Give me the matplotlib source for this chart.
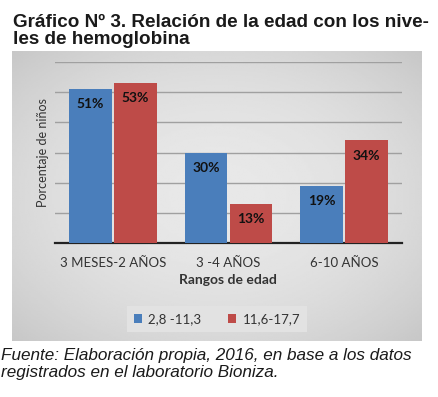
import numpy as np
import matplotlib.pyplot as plt

categorias = ['3 MESES-2 AÑOS', '3 -4 AÑOS', '6-10 AÑOS']
serie_baja = [51, 30, 19]      # 2,8 -11,3
serie_alta = [53, 13, 34]      # 11,6-17,7
nombres = ['2,8 -11,3', '11,6-17,7']

W, H = 439, 397
fig = plt.figure(figsize=(W / 100, H / 100), dpi=100)
fig.patch.set_facecolor('white')
plt.rcParams['font.family'] = ['Lato', 'DejaVu Sans']

def fx(px):
    return px / W

def fy(py):
    return 1 - py / H

# gray chart panel with soft radial gradient
bg = fig.add_axes([fx(12), fy(341), fx(422) - fx(12), fy(51) - fy(341)])
gx, gy = np.meshgrid(np.linspace(-1, 1, 200), np.linspace(-1, 1, 200))
r2 = (gx ** 2 + gy ** 2) / 2
shade = 0.91 - 0.13 * r2
bg.imshow(shade, cmap='gray', vmin=0, vmax=1, aspect='auto', extent=[0, 1, 0, 1])
bg.axis('off')

# plot area
ax = fig.add_axes([fx(55), fy(243), fx(402) - fx(55), fy(62) - fy(243)])
ax.set_facecolor('none')
x = np.arange(len(categorias))
w = 0.37
b1 = ax.bar(x - w / 2 - 0.01, serie_baja, w, color='#4a7ebb', label=nombres[0], zorder=3)
b2 = ax.bar(x + w / 2 + 0.01, serie_alta, w, color='#be4b48', label=nombres[1], zorder=3)
for bars in (b1, b2):
    for rect in bars:
        v = rect.get_height()
        ax.text(rect.get_x() + rect.get_width() / 2, v - 5, f'{v:.0f}%',
                ha='center', va='center', fontsize=10, fontweight='bold',
                color='#111111', zorder=4)

ax.set_xlim(-0.5, 2.5)
ax.set_ylim(0, 60)
ax.set_yticks(np.arange(0, 61, 10))
ax.yaxis.grid(True, color='#a0a0a0', linewidth=1)
ax.set_axisbelow(True)
ax.tick_params(axis='y', length=0, labelleft=False)
ax.tick_params(axis='x', length=0, pad=10, labelsize=9.5, labelcolor='#333333')
ax.set_xticks(x)
ax.set_xticklabels(categorias)
for s in ['top', 'right', 'left']:
    ax.spines[s].set_visible(False)
ax.spines['bottom'].set_color('#222222')
ax.spines['bottom'].set_linewidth(1.6)

fig.text(fx(43), fy(153), 'Porcentaje de niños', rotation=90, ha='center', va='center',
         fontsize=9, color='#333333')
fig.text(fx(228), fy(280), 'Rangos de edad', ha='center', va='center',
         fontsize=10, fontweight='bold', color='#333333')

leg = fig.legend(loc='center', bbox_to_anchor=(fx(217), fy(319)), ncol=2,
                 fontsize=9.5, frameon=True, handlelength=0.6, handleheight=0.6,
                 columnspacing=2.0, handletextpad=0.5, borderpad=0.5)
leg.get_frame().set_facecolor('#e2e2e2')
leg.get_frame().set_edgecolor('none')
leg.get_frame().set_alpha(1)
leg.get_frame().set_boxstyle('square', pad=0)
for t in leg.get_texts():
    t.set_color('#333333')

fig.text(fx(13), fy(31), 'Gráfico Nº 3. Relación de la edad con los nive-\nles de hemoglobina',
         ha='left', va='center', fontsize=13.6, fontweight='bold', color='#1a1a1a',
         family='Liberation Sans', linespacing=0.95)

fig.text(fx(1), fy(364), 'Fuente: Elaboración propia, 2016, en base a los datos\nregistrados en el laboratorio Bioniza.',
         ha='left', va='center', fontsize=12.3, style='italic', color='#1a1a1a',
         family='Liberation Sans', linespacing=1.1)

fig.savefig('out.png', dpi=100)
